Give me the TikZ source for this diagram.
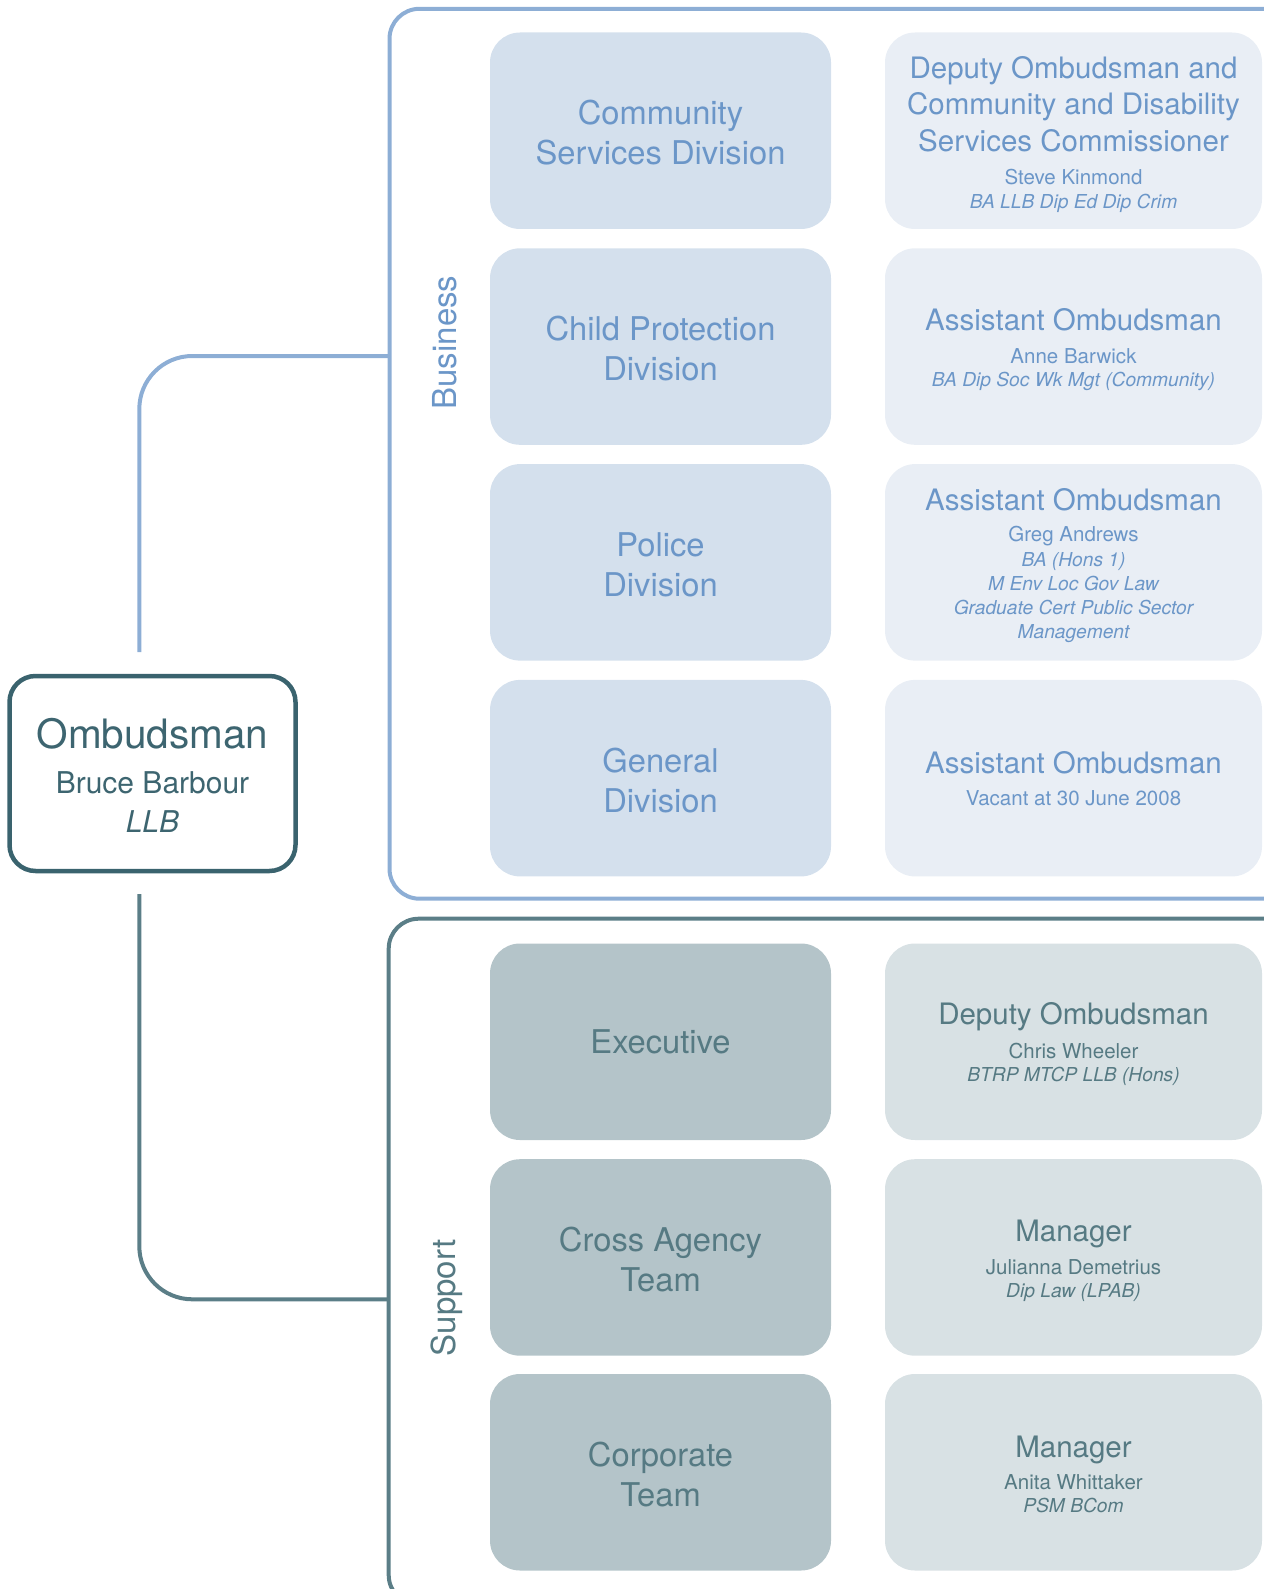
\documentclass[tikz,border=0pt]{standalone}
\usepackage{fontspec}
\setmainfont{TeX Gyre Heros}
\definecolor{bizline}{RGB}{141,174,213}
\definecolor{biztext}{RGB}{107,150,200}
\definecolor{bizdark}{RGB}{212,224,237}
\definecolor{bizlight}{RGB}{233,238,245}
\definecolor{supline}{RGB}{91,126,135}
\definecolor{suptext}{RGB}{86,122,131}
\definecolor{supdark}{RGB}{180,196,201}
\definecolor{suplight}{RGB}{216,225,228}
\definecolor{ombline}{RGB}{58,99,110}
\definecolor{ombtext}{RGB}{61,101,112}
\newcommand\setfs[1]{\fontsize{#1}{#1}\selectfont}
\begin{document}
\begin{tikzpicture}[x=1pt,y=-1pt,
  grp/.style={rectangle, rounded corners=30pt, line width=4pt, inner sep=0pt, minimum width=950pt},
  conn/.style={line width=4pt, rounded corners=53pt},
  leftbox/.style={rectangle, rounded corners=30pt, inner sep=0pt, minimum width=341pt, minimum height=196.5pt},
  rightbox/.style={rectangle, rounded corners=30pt, inner sep=0pt, minimum width=377pt, minimum height=196.5pt},
  tl/.style={anchor=base, inner sep=0pt},
  divt/.style={tl, font=\setfs{32.7}},
  titt/.style={tl, font=\setfs{29.5}},
  namet/.style={tl, font=\setfs{20.5}},
  qualt/.style={tl, font=\setfs{19.2}\itshape},
  lab/.style={anchor=base, inner sep=0pt, rotate=90, font=\setfs{33}},
  bt/.style={text=biztext},
  st/.style={text=suptext}]
\useasboundingbox (0,0) rectangle (1263,1589);

% group boxes
\node[grp, draw=bizline, minimum height=889.9pt] (bizgrp) at (864.5,453.75) {};
\node[grp, draw=supline, minimum height=686.3pt] (supgrp) at (863.7,1261.85) {};

% connectors
\coordinate (bjoin) at (389.5,356);
\coordinate (bend) at (139.3,652);
\draw[conn, draw=bizline] (bjoin) -| (bend);
\coordinate (sstart) at (139.3,894);
\coordinate (sjoin) at (388.7,1299.3);
\draw[conn, draw=supline] (sstart) |- (sjoin);

% Ombudsman
\node[draw=ombline, line width=4.5pt, rounded corners=26pt, inner sep=0pt, minimum width=286pt, minimum height=195pt] (omb) at (152.5,773.5) {};
\node[tl, text=ombtext, font=\setfs{40.5}] (ombt) at (152.5,748) {Ombudsman};
\node[tl, text=ombtext, font=\setfs{30}] (ombn) at (152.5,793) {Bruce Barbour};
\node[tl, text=ombtext, font=\setfs{30}\itshape] (ombq) at (152.5,832) {LLB};

% labels
\node[lab, bt] (blab) at (456,342.5) {Business};
\node[lab, st] (slab) at (455,1298) {Support};

% business left column
\node[leftbox, fill=bizdark] (b1) at (660.5,130.75) {};
\node[leftbox, fill=bizdark] (b2) at (660.5,346.55) {};
\node[leftbox, fill=bizdark] (b3) at (660.5,562.35) {};
\node[leftbox, fill=bizdark] (b4) at (660.5,778.15) {};
\node[divt, bt] (b1a) at (660.5,124.75) {Community};
\node[divt, bt] (b1b) at (660.5,164.75) {Services Division};
\node[divt, bt] (b2a) at (660.5,340.55) {Child Protection};
\node[divt, bt] (b2b) at (660.5,380.55) {Division};
\node[divt, bt] (b3a) at (660.5,556.35) {Police};
\node[divt, bt] (b3b) at (660.5,596.35) {Division};
\node[divt, bt] (b4a) at (660.5,772.15) {General};
\node[divt, bt] (b4b) at (660.5,812.15) {Division};

% business right column
\node[rightbox, fill=bizlight] (r1) at (1073.5,130.75) {};
\node[rightbox, fill=bizlight] (r2) at (1073.5,346.55) {};
\node[rightbox, fill=bizlight] (r3) at (1073.5,562.35) {};
\node[rightbox, fill=bizlight] (r4) at (1073.5,778.15) {};

\node[titt, bt] (r1a) at (1073.5,78.3) {Deputy Ombudsman and};
\node[titt, bt] (r1b) at (1073.5,115) {Community and Disability};
\node[titt, bt] (r1c) at (1073.5,151.7) {Services Commissioner};
\node[namet, bt] (r1d) at (1073.5,185) {Steve Kinmond};
\node[qualt, bt] (r1e) at (1073.5,208.3) {BA LLB Dip Ed Dip Crim};

\node[titt, bt] (r2a) at (1073.5,330) {Assistant Ombudsman};
\node[namet, bt] (r2b) at (1073.5,363.3) {Anne Barwick};
\node[qualt, bt] (r2c) at (1073.5,386.7) {BA Dip Soc Wk Mgt (Community)};

\node[titt, bt] (r3a) at (1073.5,510) {Assistant Ombudsman};
\node[namet, bt] (r3b) at (1073.5,541.7) {Greg Andrews};
\node[qualt, bt] (r3c) at (1073.5,566.7) {BA (Hons 1)};
\node[qualt, bt] (r3d) at (1073.5,590) {M Env Loc Gov Law};
\node[qualt, bt] (r3e) at (1073.5,614.3) {Graduate Cert Public Sector};
\node[qualt, bt] (r3f) at (1073.5,638.3) {Management};

\node[titt, bt] (r4a) at (1073.5,773.3) {Assistant Ombudsman};
\node[namet, bt] (r4b) at (1073.5,805.7) {Vacant at 30 June 2008};

% support left column
\node[leftbox, fill=supdark] (s1) at (660.5,1041.75) {};
\node[leftbox, fill=supdark] (s2) at (660.5,1257.45) {};
\node[leftbox, fill=supdark] (s3) at (660.5,1472.25) {};
\node[divt, st] (s1a) at (660.5,1053.75) {Executive};
\node[divt, st] (s2a) at (660.5,1251.45) {Cross Agency};
\node[divt, st] (s2b) at (660.5,1291.45) {Team};
\node[divt, st] (s3a) at (660.5,1466.25) {Corporate};
\node[divt, st] (s3b) at (660.5,1506.25) {Team};

% support right column
\node[rightbox, fill=suplight] (t1) at (1073.5,1041.75) {};
\node[rightbox, fill=suplight] (t2) at (1073.5,1257.45) {};
\node[rightbox, fill=suplight] (t3) at (1073.5,1472.25) {};

\node[titt, st] (t1a) at (1073.5,1024) {Deputy Ombudsman};
\node[namet, st] (t1b) at (1073.5,1058.3) {Chris Wheeler};
\node[qualt, st] (t1c) at (1073.5,1081.7) {BTRP MTCP LLB (Hons)};

\node[titt, st] (t2a) at (1073.5,1241) {Manager};
\node[namet, st] (t2b) at (1073.5,1274.3) {Julianna Demetrius};
\node[qualt, st] (t2c) at (1073.5,1297.7) {Dip Law (LPAB)};

\node[titt, st] (t3a) at (1073.5,1457) {Manager};
\node[namet, st] (t3b) at (1073.5,1489) {Anita Whittaker};
\node[qualt, st] (t3c) at (1073.5,1512.4) {PSM BCom};
\end{tikzpicture}
\end{document}
